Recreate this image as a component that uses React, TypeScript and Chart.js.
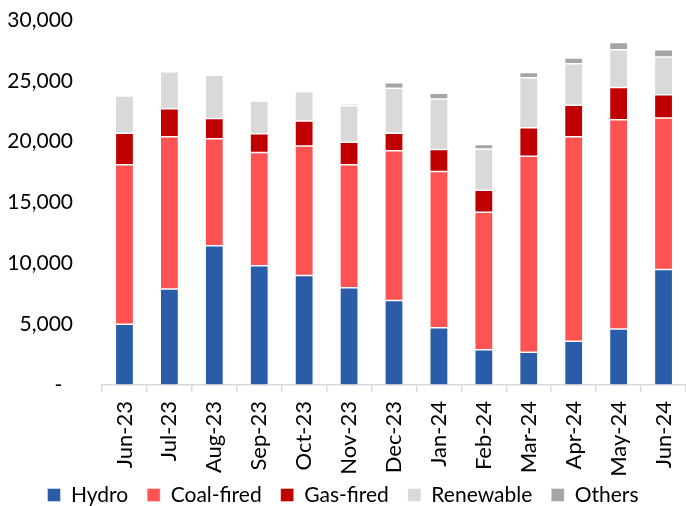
import React, { useEffect, useRef } from "react";
import { Chart, registerables } from "chart.js";

Chart.register(...registerables);

// Monthly power generation by source (GWh)
const months = [
  "Jun-23", "Jul-23", "Aug-23", "Sep-23", "Oct-23", "Nov-23", "Dec-23",
  "Jan-24", "Feb-24", "Mar-24", "Apr-24", "May-24", "Jun-24",
];
const hydro = [5000, 7900, 11450, 9800, 9000, 8000, 6950, 4700, 2900, 2700, 3600, 4600, 9500];
const coalFired = [13100, 12500, 8800, 9300, 10650, 10100, 12300, 12850, 11300, 16100, 16800, 17200, 12450];
const gasFired = [2600, 2300, 1650, 1550, 2050, 1850, 1450, 1800, 1800, 2350, 2600, 2650, 1900];
const renewable = [3050, 3050, 3550, 2700, 2400, 3000, 3700, 4150, 3400, 4100, 3400, 3100, 3100];
const others = [0, 0, 80, 80, 80, 150, 450, 470, 360, 440, 470, 600, 600];

const yTicks = [0, 5000, 10000, 15000, 20000, 25000, 30000];

const FONT = "Lato, 'Open Sans', sans-serif";

export default function App() {
  const canvasRef = useRef<HTMLCanvasElement | null>(null);

  useEffect(() => {
    const canvas = canvasRef.current;
    if (!canvas) return;

    const series = [
      { label: "Hydro", data: hydro, color: "#2b5ca8" },
      { label: "Coal-fired", data: coalFired, color: "#ff5252" },
      { label: "Gas-fired", data: gasFired, color: "#c00000" },
      { label: "Renewable", data: renewable, color: "#d9d9d9" },
      { label: "Others", data: others, color: "#a5a5a5" },
    ];

    const chart = new Chart(canvas, {
      type: "bar",
      data: {
        labels: months,
        datasets: series.map((s) => ({
          label: s.label,
          data: s.data,
          backgroundColor: s.color,
          borderColor: "rgba(255,255,255,0.55)",
          borderWidth: 0.75,
          borderSkipped: false,
          categoryPercentage: 1,
          barPercentage: 0.407,
        })),
      },
      options: {
        responsive: false,
        animation: false,
        layout: { padding: { top: 20, left: 0, right: 0, bottom: -9.5 } },
        plugins: {
          tooltip: { enabled: false },
          legend: {
            position: "bottom",
            labels: {
              color: "#000",
              font: { family: FONT, size: 21 },
              boxWidth: 13,
              boxHeight: 13,
              padding: 19,
            },
          },
        },
        scales: {
          x: {
            stacked: true,
            afterFit: (scale: any) => {
              scale.height = 80.5;
              scale.paddingLeft = 0;
              scale.paddingRight = 0;
              // month labels may run past the axis box; draw them unclipped
              scale._computeLabelArea = () => undefined;
            },
            border: { display: true, color: "#d9d9d9", width: 1.5 },
            grid: {
              offset: true,
              drawOnChartArea: false,
              drawTicks: true,
              tickLength: 7,
              color: "#d9d9d9",
              lineWidth: 1.5,
            },
            ticks: {
              color: "#000",
              font: { family: FONT, size: 22 },
              minRotation: 90,
              maxRotation: 90,
              padding: 9,
              autoSkip: false,
            },
          },
          y: {
            stacked: true,
            min: 0,
            max: 30000,
            afterFit: (scale: any) => {
              scale.width = 102;
              scale.paddingTop = 0;
              scale.paddingBottom = 0;
            },
            afterBuildTicks: (scale: any) => {
              scale.ticks = yTicks.map((v) => ({ value: v }));
            },
            border: { display: false },
            grid: { display: false, drawTicks: false },
            ticks: {
              color: "#000",
              font: { family: FONT, size: 21 },
              padding: 29,
              callback: (v: any) =>
                Number(v) === 0 ? "-  " : Number(v).toLocaleString("en-US"),
            },
          },
        },
      },
    });

    return () => chart.destroy();
  }, []);

  return (
    <div style={{ position: "fixed", left: 0, top: 0, width: 686, height: 506, background: "#fff" }}>
      <canvas ref={canvasRef} width={686} height={506} style={{ display: "block" }} />
    </div>
  );
}
